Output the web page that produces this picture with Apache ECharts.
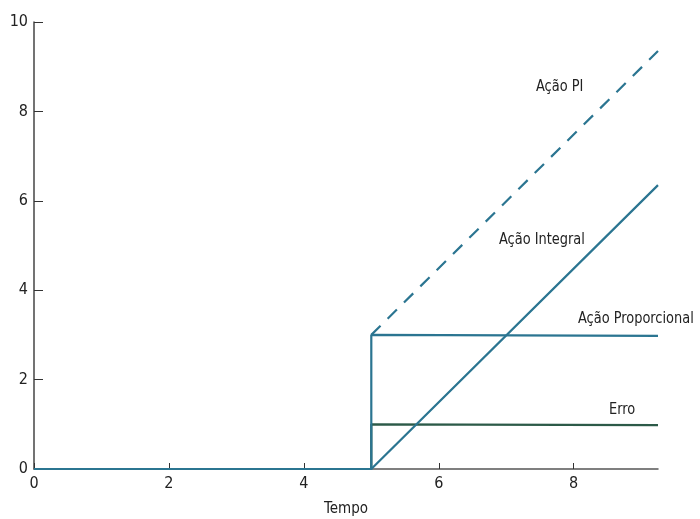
<!DOCTYPE html>
<html>
<head>
<meta charset="utf-8">
<script src="https://cdn.jsdelivr.net/npm/echarts@6/dist/echarts.min.js"></script>
<style>html,body{margin:0;padding:0;background:#fff}#c{width:700px;height:519px}</style>
</head>
<body>
<div id="c"></div>
<script>
// Data
const xTicks = [0, 2, 4, 6, 8];
const xMax = 9.25;
const erroX = [0, 5, 5, 9.25];
const erroY = [0, 0, 1, 0.98];
const propX = [0, 5, 5, 9.25];
const propY = [0, 0, 3, 2.98];
const integralX = [0, 5, 9.25];
const integralY = [0, 0, 6.35];
const piX = [5, 9.25];
const piY = [3, 9.35];
const labelsText = ['Ação PI', 'Ação Integral', 'Ação Proporcional', 'Erro'];

const pairs = (xs, ys) => xs.map((x, i) => [x, ys[i]]);
const FONT = "'Liberation Sans Narrow','DejaVu Sans Condensed','Roboto Condensed',sans-serif";
const TEAL = '#2b7591';
const GREEN = '#2c5a48';

const chart = echarts.init(document.getElementById('c'));
const lbl = (i, x, y) => ({ type: 'text', x: x, y: y, scaleX: 0.9,
  style: { text: labelsText[i], font: '16px ' + FONT, fill: '#222' } });
chart.setOption({
  animation: false,
  grid: { left: 34, right: 42, top: 22, bottom: 50, outerBoundsMode: 'none', containLabel: false },
  xAxis: {
    type: 'value', min: 0, max: xMax, interval: 2,
    name: 'Tempo', nameLocation: 'middle', nameGap: 33,
    nameTextStyle: { fontFamily: FONT, fontSize: 15, color: '#222' },
    axisLine: { lineStyle: { color: '#555', width: 1.5 } },
    axisTick: { inside: true, length: 6, lineStyle: { color: '#333' } },
    axisLabel: { showMaxLabel: false, margin: 7, fontFamily: FONT, fontSize: 16, color: '#222' },
    splitLine: { show: false }
  },
  yAxis: {
    type: 'value', min: 0, max: 10, interval: 2,
    axisLine: { show: true, lineStyle: { color: '#444', width: 1.5 } },
    axisTick: { inside: true, length: 9, lineStyle: { color: '#333' } },
    axisLabel: { margin: 6, fontFamily: FONT, fontSize: 16, color: '#222' },
    splitLine: { show: false }
  },
  series: [
    { name: 'Erro', type: 'line', data: pairs(erroX, erroY), showSymbol: false,
      lineStyle: { color: GREEN, width: 2.2 } },
    { name: 'Ação Proporcional', type: 'line', data: pairs(propX, propY), showSymbol: false,
      lineStyle: { color: TEAL, width: 2.2 } },
    { name: 'Ação Integral', type: 'line', data: pairs(integralX, integralY), showSymbol: false,
      lineStyle: { color: TEAL, width: 2.2 } },
    { name: 'Ação PI', type: 'line', data: pairs(piX, piY), showSymbol: false,
      lineStyle: { color: TEAL, width: 2.2, type: [13, 10] } }
  ],
  graphic: [
    lbl(0, 536, 79),
    lbl(1, 499, 232),
    lbl(2, 578, 311),
    lbl(3, 609, 402)
  ]
});
</script>
</body>
</html>
